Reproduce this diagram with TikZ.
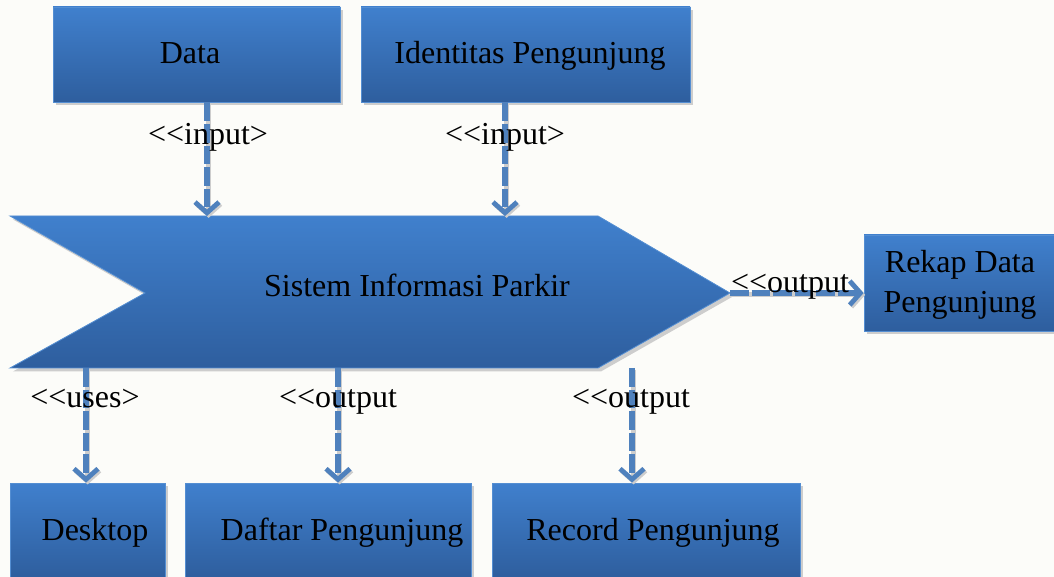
\documentclass[tikz,border=0pt]{standalone}
\usepackage{fontspec}
\setmainfont{Liberation Serif}
\usetikzlibrary{arrows.meta,shadows}
\definecolor{boxtop}{RGB}{64,128,205}
\definecolor{boxbot}{RGB}{46,94,158}
\definecolor{boxline}{RGB}{84,142,210}
\definecolor{flow}{RGB}{79,129,189}
\definecolor{shade}{RGB}{205,205,205}
\definecolor{paper}{RGB}{252,252,249}

\begin{document}
\begin{tikzpicture}[x=0.75pt,y=-0.75pt,
  blockbox/.style={draw=boxline, line width=0.6pt, top color=boxtop, bottom color=boxbot,
    drop shadow={shadow xshift=2.2pt, shadow yshift=-2.6pt, fill=shade, opacity=1}},
  boxsize/.style 2 args={minimum width=#1*0.75pt, minimum height=#2*0.75pt, inner sep=0pt},
  lbl/.style={font=\fontsize{24}{30}\selectfont, inner sep=0pt, text=black, anchor=base},
  flowline/.style={draw=flow, line width=3.8pt, dash pattern=on 14pt off 2.2pt,
    -{Straight Barb[length=8pt,width=18pt,line width=3.6pt]},
    preaction={draw=shade, solid, line width=3.8pt,
      transform canvas={shift={(1.2pt,-1.4pt)}}}}
]
% page and visible area
\clip (0,0) rectangle (1054,577);
\fill[paper] (0,0) rectangle (1054,577);

% central chevron
\path[blockbox] (10,216) -- (598,216) -- (730,293) -- (598,368) -- (10,368) -- (145,293) -- cycle;
\node[lbl] (sip) at (417,297) {Sistem Informasi Parkir};
\coordinate (in1) at (207,216);
\coordinate (in2) at (505,216);
\coordinate (tip) at (730,293);
\coordinate (out1) at (86,368);
\coordinate (out2) at (338,368);
\coordinate (out3) at (632,368);

% input boxes
\node[blockbox, boxsize={287}{95}] (data) at (196.5,54.5) {};
\node[lbl] (datatxt) at (190,64) {Data};
\node[blockbox, boxsize={329}{95}] (ident) at (525.5,54.5) {};
\node[lbl] (identtxt) at (530,64) {Identitas Pengunjung};

% output boxes
\node[blockbox, boxsize={194}{96}] (rekap) at (961,283) {};
\node[lbl, align=center, anchor=north] (rekaptxt) at (960,250) {Rekap Data\\Pengunjung};
\node[blockbox, boxsize={155}{95}] (desk) at (87.5,530.5) {};
\node[lbl] (desktxt) at (95,540) {Desktop};
\node[blockbox, boxsize={286}{95}] (daftar) at (328,530.5) {};
\node[lbl] (daftartxt) at (342,540) {Daftar Pengunjung};
\node[blockbox, boxsize={308}{95}] (record) at (646,530.5) {};
\node[lbl] (recordtxt) at (653,540) {Record Pengunjung};

% connectors
\draw[flowline] (in1 |- data.south) -- (in1);
\draw[flowline] (in2 |- ident.south) -- (in2);
\draw[flowline] (tip) -- (rekap.west |- tip);
\draw[flowline] (out1) -- (out1 |- desk.north);
\draw[flowline] (out2) -- (out2 |- daftar.north);
\draw[flowline] (out3) -- (out3 |- record.north);

% connector labels (the {} keeps the two angle brackets apart)
\node[lbl] (lin1) at (208,145) {<{}<input>};
\node[lbl] (lin2) at (505,145) {<{}<input>};
\node[lbl] (lout0) at (790,293) {<{}<output};
\node[lbl] (luses) at (85,407) {<{}<uses>};
\node[lbl] (lout1) at (338,407) {<{}<output};
\node[lbl] (lout2) at (631,407) {<{}<output};
\end{tikzpicture}
\end{document}
